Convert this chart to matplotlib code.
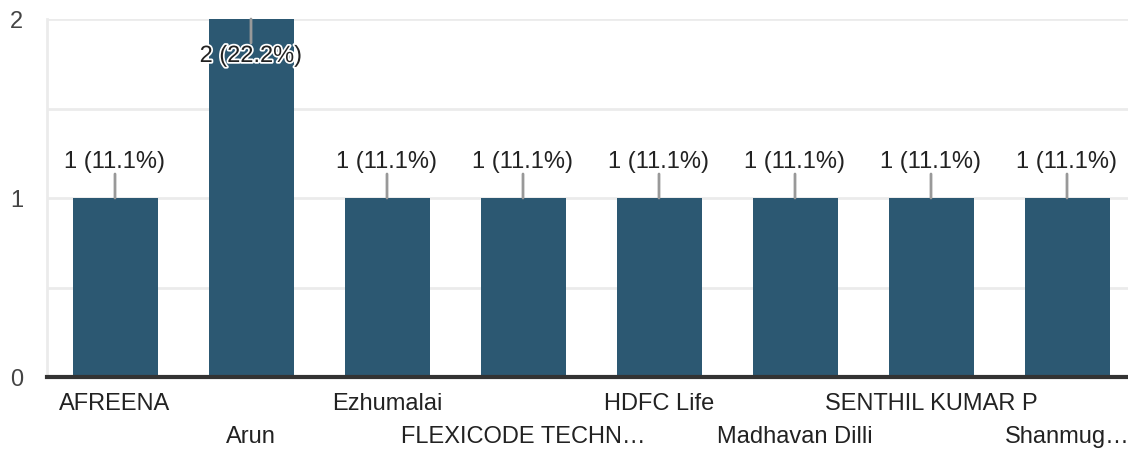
import matplotlib
matplotlib.use("Agg")
import matplotlib.pyplot as plt
import matplotlib.patheffects as pe
from matplotlib.transforms import blended_transform_factory, offset_copy

categories = ["AFREENA", "Arun", "Ezhumalai", "FLEXICODE TECHN\u2026", "HDFC Life",
              "Madhavan Dilli", "SENTHIL KUMAR P", "Shanmug\u2026"]
counts = [1, 2, 1, 1, 1, 1, 1, 1]
labels = ["1 (11.1%)", "2 (22.2%)", "1 (11.1%)", "1 (11.1%)", "1 (11.1%)",
          "1 (11.1%)", "1 (11.1%)", "1 (11.1%)"]
yticks = [0, 1, 2]

plt.rcParams['font.family'] = ['Liberation Sans', 'DejaVu Sans']
W, H = 1128, 452
fig = plt.figure(figsize=(W / 100, H / 100), dpi=100)
left, right, top, bottom = 47, 1128, 20, 378
ax = fig.add_axes([left / W, 1 - bottom / H, (right - left) / W, (bottom - top) / H])

slot = 136.0
ax.set_xlim(-0.5, -0.5 + (right - left) / slot)
ax.set_ylim(0, 2)

for y in [0.5, 1, 1.5, 2]:
    ax.axhline(y, color="#ebebeb", lw=2, zorder=0)

x = list(range(len(categories)))
ax.bar(x, counts, width=0.625, color="#2c5872", zorder=2)

for s in ["top", "right"]:
    ax.spines[s].set_visible(False)
ax.spines["left"].set_color("#ebebeb")
ax.spines["left"].set_linewidth(2)
ax.spines["bottom"].set_color("#333333")
ax.spines["bottom"].set_linewidth(3)
ax.spines["bottom"].set_zorder(3)

ax.set_yticks(yticks)
ax.set_yticklabels([str(v) for v in yticks], fontsize=17, color="#444444")
ax.tick_params(axis="y", length=0, pad=17)
ax.set_xticks([])

px = 0.72  # points per pixel at dpi 100
fs = 17
ymax = max(counts)
for xi, v, lab in zip(x, counts, labels):
    if v >= ymax:
        ax.annotate("", xy=(xi, v), xytext=(0, -24 * px), textcoords="offset points",
                    arrowprops=dict(arrowstyle="-", color="#999999", lw=2, shrinkA=0, shrinkB=0),
                    zorder=4)
        t = ax.annotate(lab, xy=(xi, v), xytext=(0, -37 * px), textcoords="offset points",
                        ha="center", va="center", fontsize=fs, color="#222222", zorder=5)
        t.set_path_effects([pe.withStroke(linewidth=2.5, foreground="white")])
    else:
        ax.annotate("", xy=(xi, v), xytext=(0, 24 * px), textcoords="offset points",
                    arrowprops=dict(arrowstyle="-", color="#999999", lw=2, shrinkA=0, shrinkB=0),
                    zorder=4)
        ax.annotate(lab, xy=(xi, v), xytext=(0, 37 * px), textcoords="offset points",
                    ha="center", va="center", fontsize=fs, color="#222222", zorder=5)

trans = blended_transform_factory(ax.transData, ax.transAxes)
for i, name in enumerate(categories):
    off = 26 if i % 2 == 0 else 59
    tr = offset_copy(trans, fig=fig, x=0, y=-off * px, units="points")
    ax.text(i, 0, name, transform=tr, ha="center", va="center",
            fontsize=fs, color="#222222", clip_on=False)

fig.savefig("out.png", dpi=100)
